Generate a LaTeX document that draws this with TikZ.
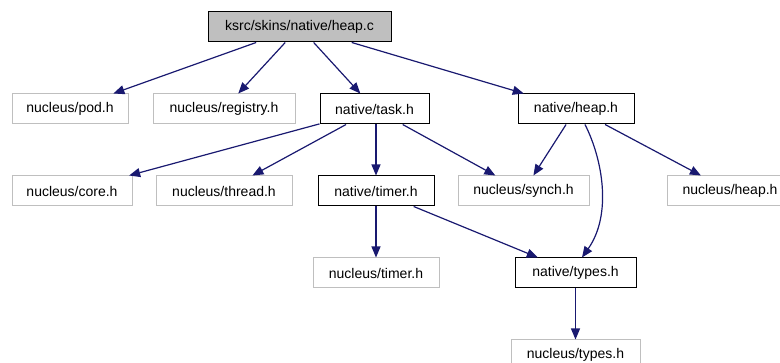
\documentclass[tikz,border=0pt]{standalone}
\usepackage{fontspec}
\setmainfont{Liberation Sans}
\usetikzlibrary{arrows.meta}
\definecolor{edgeblue}{HTML}{191970}
\definecolor{boxgrey}{HTML}{BFBFBF}
\begin{document}
\begin{tikzpicture}[x=1pt,y=-1pt,
  box/.style={draw=black,line width=1pt,rectangle,inner sep=0pt,minimum height=30pt,
    font=\fontsize{14}{16}\selectfont,anchor=center},
  gbox/.style={box,draw=boxgrey},
  mainbox/.style={box,fill=boxgrey},
  edge/.style={draw=edgeblue,line width=1.2pt,-{Triangle[length=11pt,width=9pt]}}]
\useasboundingbox (0,0) rectangle (780,363);
\clip (0,0) rectangle (780,363);
\node[mainbox,minimum width=183pt] (heapc) at (299.5,27) {ksrc/skins/native/heap.c};
\node[gbox,minimum width=116pt] (pod) at (70,109) {nucleus/pod.h};
\node[gbox,minimum width=142pt] (registry) at (224,109) {nucleus/registry.h};
\node[box,minimum width=109pt] (task) at (374.5,109) {native/task.h};
\node[box,minimum width=116pt] (heaph) at (576,109) {native/heap.h};
\node[gbox,minimum width=120pt] (core) at (72,191) {nucleus/core.h};
\node[gbox,minimum width=136pt] (thread) at (224,191) {nucleus/thread.h};
\node[box,minimum width=116pt] (timer) at (376,191) {native/timer.h};
\node[gbox,minimum width=131pt] (synch) at (523.5,191) {nucleus/synch.h};
\node[gbox,minimum width=126pt] (nheap) at (730,191) {nucleus/heap.h};
\node[gbox,minimum width=126pt] (ntimer) at (376,273) {nucleus/timer.h};
\node[box,minimum width=121pt] (types) at (575.5,273) {native/types.h};
\node[gbox,minimum width=129pt] (ntypes) at (575.5,355) {nucleus/types.h};
\draw[edge] (heapc) -- (pod);
\draw[edge] (heapc) -- (registry);
\draw[edge] (heapc) -- (task);
\draw[edge] (heapc) -- (heaph);
\draw[edge] (task) -- (core);
\draw[edge] (task) -- (thread);
\draw[edge] (task.south -| timer.north) -- (timer.north);
\draw[edge] (task) -- (synch);
\draw[edge] (heaph) -- (synch);
\draw[edge] (heaph) -- (nheap);
\draw[edge] ([xshift=9pt]heaph.south) .. controls (603,160) and (612,215) .. ([xshift=6.5pt]types.north);
\draw[edge] (timer) -- (types);
\draw[edge] (timer) -- (ntimer);
\draw[edge] (types) -- (ntypes);
\end{tikzpicture}
\end{document}
